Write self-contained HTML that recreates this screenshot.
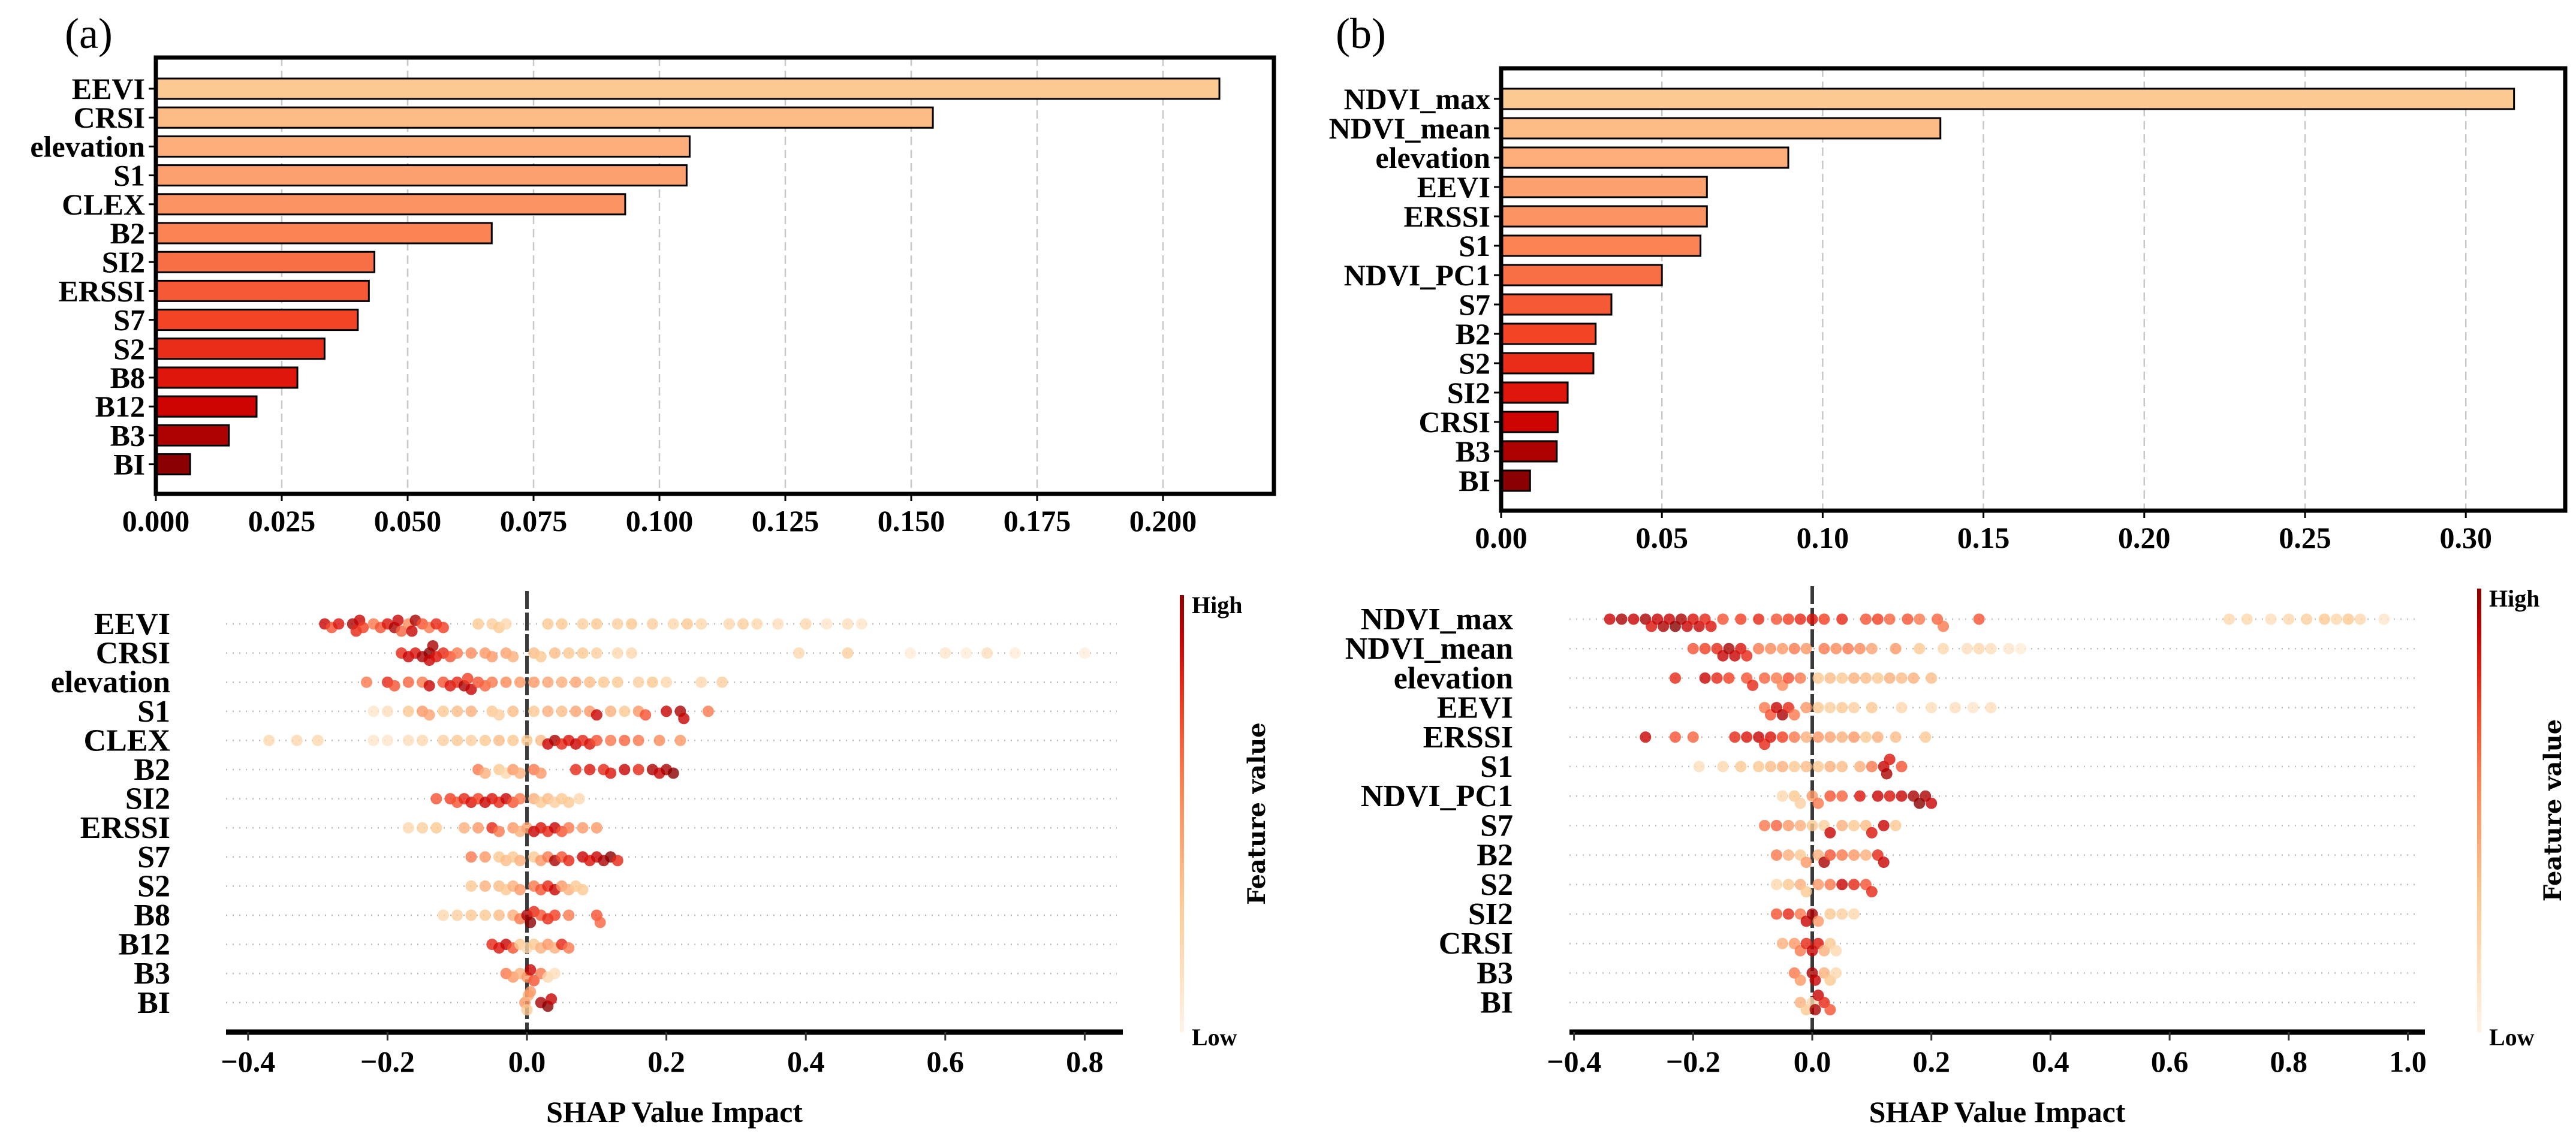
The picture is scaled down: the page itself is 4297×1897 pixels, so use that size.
<!DOCTYPE html>
<html><head><meta charset="utf-8">
<style>
html,body{margin:0;padding:0;background:#fff;}
svg{display:block;}
text{font-family:"Liberation Serif",serif;font-weight:bold;fill:#000;}
</style></head>
<body>
<svg id="fig" width="4297" height="1897" viewBox="0 0 4297 1897" xmlns="http://www.w3.org/2000/svg">
<rect width="4297" height="1897" fill="#fff"/>
<text x="108" y="80" font-size="72" style="font-weight:normal">(a)</text>
<text x="2228" y="80" font-size="72" style="font-weight:normal">(b)</text>
</svg>
<script>
// ---------- DATA ----------
const featuresA = ["EEVI","CRSI","elevation","S1","CLEX","B2","SI2","ERSSI","S7","S2","B8","B12","B3","BI"];
const importanceA = [0.2112,0.1543,0.106,0.1054,0.0932,0.0667,0.0434,0.0423,0.0401,0.0335,0.0281,0.020,0.0145,0.0068];
const barTicksA = ["0.000","0.025","0.050","0.075","0.100","0.125","0.150","0.175","0.200"];
const featuresB = ["NDVI_max","NDVI_mean","elevation","EEVI","ERSSI","S1","NDVI_PC1","S7","B2","S2","SI2","CRSI","B3","BI"];
const importanceB = [0.315,0.1366,0.0893,0.064,0.064,0.062,0.050,0.0343,0.0294,0.0287,0.0207,0.0176,0.0173,0.009];
const barTicksB = ["0.00","0.05","0.10","0.15","0.20","0.25","0.30"];
const shapTicksA = ["-0.4","-0.2","0.0","0.2","0.4","0.6","0.8"];
const shapTicksB = ["-0.4","-0.2","0.0","0.2","0.4","0.6","0.8","1.0"];
// SHAP points: "shapValue,featureValue"
const shapA = [
"-0.29,.9 -0.28,.7 -0.27,.85 -0.25,.95 -0.245,.8 -0.24,.9 -0.235,.75 -0.22,.6 -0.21,.7 -0.2,.85 -0.19,.95 -0.185,.9 -0.18,.65 -0.17,.55 -0.165,.9 -0.16,.95 -0.15,.7 -0.14,.6 -0.13,.8 -0.12,.75 -0.07,.3 -0.05,.25 -0.04,.3 -0.03,.2 0.03,.3 0.05,.3 0.08,.25 0.1,.3 0.13,.25 0.15,.3 0.18,.25 0.21,.2 0.23,.3 0.25,.2 0.29,.2 0.31,.25 0.33,.2 0.36,.15 0.4,.2 0.43,.1 0.46,.15 0.48,.1",
"-0.18,.8 -0.17,.9 -0.16,.85 -0.15,.95 -0.14,1 -0.14,.9 -0.135,.95 -0.13,.85 -0.12,.8 -0.11,.7 -0.1,.6 -0.08,.55 -0.06,.5 -0.05,.5 -0.03,.45 -0.02,.4 0.01,.35 0.02,.3 0.04,.35 0.06,.3 0.08,.3 0.1,.25 0.13,.2 0.15,.2 0.39,.2 0.46,.25 0.55,.05 0.6,.1 0.63,.05 0.66,.15 0.7,.05 0.8,.03",
"-0.23,.6 -0.2,.8 -0.19,.7 -0.17,.65 -0.15,.6 -0.14,.9 -0.12,.7 -0.11,.85 -0.1,.8 -0.09,.95 -0.085,.75 -0.08,.9 -0.07,.7 -0.06,.65 -0.05,.6 -0.03,.55 -0.01,.5 0.01,.5 0.03,.45 0.05,.4 0.07,.45 0.09,.35 0.11,.3 0.13,.3 0.16,.25 0.18,.3 0.2,.2 0.25,.2 0.28,.25",
"-0.22,.1 -0.2,.15 -0.17,.3 -0.15,.5 -0.14,.45 -0.12,.3 -0.1,.35 -0.08,.4 -0.05,.3 -0.04,.25 -0.02,.35 0.01,.3 0.03,.4 0.05,.35 0.07,.45 0.09,.5 0.1,.9 0.12,.4 0.14,.3 0.16,.5 0.17,.7 0.2,.9 0.22,.95 0.225,.9 0.26,.6",
"-0.37,.2 -0.33,.2 -0.3,.2 -0.22,.1 -0.2,.1 -0.17,.15 -0.15,.2 -0.12,.25 -0.1,.3 -0.08,.25 -0.06,.3 -0.04,.35 -0.02,.3 0,.3 0.02,.35 0.03,.9 0.04,.95 0.05,.8 0.06,.85 0.07,.9 0.08,.8 0.09,.85 0.1,.7 0.12,.6 0.14,.65 0.16,.6 0.19,.55 0.22,.5",
"-0.07,.6 -0.06,.4 -0.04,.3 -0.03,.2 -0.02,.5 -0.01,.4 0.01,.6 0.02,.5 0.07,.8 0.09,.85 0.11,.8 0.12,.85 0.14,.9 0.16,.8 0.18,.95 0.19,.9 0.2,.95 0.21,1",
"-0.13,.7 -0.11,.75 -0.1,.7 -0.09,.8 -0.08,.85 -0.07,.75 -0.06,.9 -0.05,.85 -0.04,.8 -0.03,.9 -0.02,.7 -0.01,.6 0.01,.4 0.02,.3 0.03,.35 0.04,.25 0.05,.3 0.06,.3 0.075,.2",
"-0.17,.2 -0.15,.25 -0.13,.3 -0.09,.4 -0.07,.5 -0.05,.8 -0.04,.6 -0.02,.5 -0.01,.4 0,.45 0.01,.9 0.02,.85 0.03,.8 0.04,.9 0.05,.7 0.06,.6 0.08,.5 0.1,.5",
"-0.08,.6 -0.06,.5 -0.04,.3 -0.03,.35 -0.02,.3 -0.01,.4 0.01,.3 0.02,.5 0.03,.6 0.04,.95 0.05,.7 0.06,.8 0.08,.9 0.09,.85 0.1,.9 0.11,.95 0.12,1 0.13,.8",
"-0.08,.3 -0.06,.4 -0.04,.35 -0.03,.3 -0.02,.4 -0.01,.5 0.01,.6 0.02,.7 0.03,.8 0.04,.9 0.05,.5 0.06,.4 0.07,.3 0.08,.3",
"-0.12,.2 -0.1,.25 -0.08,.3 -0.06,.3 -0.04,.35 -0.02,.4 -0.01,.6 0,.95 0.005,1 0.01,.8 0.02,.7 0.03,.8 0.04,.75 0.06,.6 0.1,.7 0.105,.65",
"-0.05,.8 -0.04,.85 -0.03,.9 -0.02,.7 -0.01,.3 0,.2 0.01,.3 0.02,.4 0.03,.5 0.04,.4 0.05,.8 0.06,.6",
"-0.03,.6 -0.02,.5 -0.01,.4 0,.5 0.005,.9 0.01,.7 0.02,.6 0.03,.2 0.04,.15",
"-0.003,.5 0,.3 0.002,.4 0.005,.5 0.02,.95 0.03,1 0.035,.9"
];
const shapB = [
"-0.34,.9 -0.32,.95 -0.3,.9 -0.28,.95 -0.27,.85 -0.26,.9 -0.25,.95 -0.24,.9 -0.23,1 -0.22,.95 -0.21,.9 -0.2,.85 -0.19,.9 -0.18,.8 -0.17,.85 -0.15,.7 -0.12,.75 -0.09,.8 -0.06,.7 -0.04,.75 -0.02,.8 0,.85 0.02,.75 0.05,.8 0.09,.7 0.11,.75 0.13,.65 0.16,.7 0.18,.6 0.21,.65 0.22,.6 0.28,.7 0.7,.2 0.73,.2 0.77,.15 0.8,.2 0.83,.25 0.86,.3 0.88,.2 0.9,.3 0.92,.2 0.96,.1",
"-0.2,.7 -0.18,.75 -0.16,.8 -0.15,.9 -0.14,.95 -0.13,.9 -0.12,.85 -0.11,.8 -0.09,.6 -0.07,.55 -0.05,.5 -0.03,.6 -0.01,.5 0.02,.6 0.04,.55 0.06,.6 0.08,.55 0.1,.45 0.14,.5 0.18,.3 0.22,.2 0.26,.15 0.28,.2 0.3,.15 0.33,.1 0.35,.05",
"-0.23,.8 -0.18,.9 -0.16,.8 -0.14,.75 -0.11,.7 -0.1,.8 -0.08,.65 -0.06,.6 -0.05,.55 -0.04,.7 -0.02,.6 0.01,.3 0.03,.35 0.05,.3 0.07,.4 0.09,.35 0.11,.3 0.13,.4 0.15,.35 0.17,.4 0.2,.35",
"-0.08,.6 -0.07,.7 -0.06,.9 -0.05,.95 -0.04,.8 -0.03,.6 -0.01,.5 0.01,.3 0.03,.25 0.05,.3 0.07,.25 0.1,.3 0.15,.2 0.2,.15 0.24,.15 0.27,.1 0.3,.15",
"-0.28,.9 -0.23,.7 -0.2,.65 -0.13,.8 -0.11,.85 -0.09,.9 -0.08,.8 -0.07,.85 -0.05,.75 -0.03,.6 -0.01,.4 0.01,.5 0.03,.45 0.05,.4 0.07,.5 0.09,.3 0.11,.4 0.14,.35 0.19,.3",
"-0.19,.15 -0.15,.2 -0.12,.3 -0.09,.3 -0.07,.35 -0.05,.4 -0.03,.3 -0.01,.35 0.01,.3 0.03,.4 0.05,.35 0.08,.4 0.1,.6 0.12,.9 0.125,.95 0.13,.85 0.15,.7",
"-0.05,.2 -0.03,.3 -0.02,.25 0,.5 0.01,.6 0.03,.7 0.05,.65 0.08,.85 0.11,.9 0.13,.85 0.15,.9 0.17,.95 0.18,1 0.19,.95 0.2,.9",
"-0.08,.6 -0.06,.65 -0.04,.5 -0.02,.4 0,.3 0.02,.25 0.03,.9 0.05,.4 0.07,.3 0.09,.35 0.1,.85 0.12,.9 0.14,.3",
"-0.06,.6 -0.04,.4 -0.02,.3 -0.01,.5 0.01,.4 0.02,.95 0.03,.7 0.05,.6 0.07,.5 0.09,.4 0.11,.8 0.12,.9",
"-0.06,.2 -0.04,.3 -0.02,.4 -0.01,.3 0.01,.5 0.03,.6 0.05,.9 0.07,.8 0.09,.7 0.1,.8",
"-0.06,.7 -0.04,.8 -0.02,.6 -0.01,.9 0,.95 0.01,.5 0.03,.3 0.05,.25 0.07,.2",
"-0.05,.4 -0.03,.5 -0.02,.6 -0.01,.8 0,.9 0.01,.85 0.02,.4 0.03,.3 0.04,.2",
"-0.03,.6 -0.02,.5 0,.95 0.005,.9 0.02,.4 0.03,.3 0.04,.2",
"-0.02,.4 -0.01,.3 0,.2 0.005,.95 0.01,.9 0.02,.8 0.03,.7"
];

// ---------- HELPERS ----------
const NS = "http://www.w3.org/2000/svg";
const svg = document.getElementById("fig");
function mk(tag, attrs, parent){
  const e = document.createElementNS(NS, tag);
  for (const k in attrs) e.setAttribute(k, attrs[k]);
  (parent||svg).appendChild(e);
  return e;
}
const stops = [[0,[255,243,230]],[0.3,[253,201,146]],[0.55,[252,138,90]],[0.75,[242,60,32]],[0.88,[212,4,2]],[1,[139,0,0]]];
function cmap(t){
  t=Math.max(0,Math.min(1,t));
  for(let i=1;i<stops.length;i++){
    if(t<=stops[i][0]){
      const a=stops[i-1],b=stops[i],f=(t-a[0])/(b[0]-a[0]);
      const c=a[1].map((v,j)=>Math.round(v+(b[1][j]-v)*f));
      return `rgb(${c[0]},${c[1]},${c[2]})`;
    }
  }
  return "rgb(139,0,0)";
}

// ---------- BAR CHARTS ----------
function barChart(o){
  const g = mk("g",{});
  
  
  const xs = v => o.left + (v - 0) / o.tickStep * o.tickPx;
  o.ticks.forEach((t,i)=>{
    const x = xs(parseFloat(t));
    if(i>0){
      const gl = mk("line",{x1:x,x2:x,y1:o.top,y2:o.bottom,stroke:"#c8c8c8","stroke-width":2.5,"stroke-dasharray":"14,8"},g);
      
      
    }
    mk("line",{x1:x,x2:x,y1:o.bottom,y2:o.bottom+12,stroke:"#000","stroke-width":3},g);
    const tx = mk("text",{x:x,y:o.bottom+62,"font-size":50,"text-anchor":"middle"},g);
    tx.textContent = t;
    
    
  });
  const n = o.features.length;
  o.features.forEach((f,i)=>{
    const cy = o.firstY + i*o.rowH;
    const r = mk("rect",{x:o.left,y:cy-o.barH/2,width:xs(o.values[i])-o.left,height:o.barH,fill:cmap(0.3+0.7*i/(n-1)),stroke:"#000","stroke-width":3},g);
    
    
    mk("line",{x1:o.left-12,x2:o.left,y1:cy,y2:cy,stroke:"#000","stroke-width":3},g);
    const tx = mk("text",{x:o.left-18,y:cy+17,"font-size":50,"text-anchor":"end"},g);
    tx.textContent = f;
    
    
  });
  const fr = mk("rect",{x:o.left,y:o.top,width:o.right-o.left,height:o.bottom-o.top,fill:"none",stroke:"#000","stroke-width":7},g);
  
  
}
barChart({name:"importance-bar-chart-a",features:featuresA,values:importanceA,ticks:barTicksA,left:260,right:2125,top:96,bottom:824,tickStep:0.025,tickPx:210,firstY:148,rowH:48.2,barH:34});
barChart({name:"importance-bar-chart-b",features:featuresB,values:importanceB,ticks:barTicksB,left:2504,right:4279,top:114,bottom:852,tickStep:0.05,tickPx:268.2,firstY:165,rowH:49,barH:34});

// ---------- BEESWARM ----------
function swarm(o){
  const g = mk("g",{});
  
  
  const xs = v => o.zeroX + v/0.2*o.px02;
  o.features.forEach((f,i)=>{
    const cy = o.firstY + i*o.rowH;
    const dl = mk("line",{x1:o.axL,x2:o.axR-10,y1:cy,y2:cy,stroke:"#bbb","stroke-width":2.5,"stroke-dasharray":"2,9"},g);
    
    
    const tx = mk("text",{x:o.labelX,y:cy+17,"font-size":52,"text-anchor":"end",fill:"#222"},g);
    tx.textContent = f;
    
    
  });
  const zl = mk("line",{x1:xs(0),x2:xs(0),y1:o.firstY-55,y2:o.axisY,stroke:"#3a3a3a","stroke-width":6,"stroke-dasharray":"30,6"},g);
  
  
  o.features.forEach((f,i)=>{
    const cy = o.firstY + i*o.rowH;
    const pts = o.data[i].trim().split(/\s+/).map(s=>{const p=s.split(",");return {x:xs(parseFloat(p[0])),v:parseFloat(p[1])};});
    const placed=[];
    pts.forEach(p=>{
      let off=0;
      const cand=[0,6,-6,12,-12,18,-18];
      for(const c of cand){
        off=c;
        if(!placed.some(q=>Math.hypot(q.x-p.x,q.y-c)<12)) break;
      }
      placed.push({x:p.x,y:off});
      const c = mk("circle",{cx:p.x,cy:cy+off,r:9.5,fill:cmap(p.v),"fill-opacity":0.8},g);
      
      
    });
  });
  const ax = mk("line",{x1:o.axL,x2:o.axR,y1:o.axisY,y2:o.axisY,stroke:"#000","stroke-width":9},g);
  
  
  o.ticks.forEach(t=>{
    const x = xs(parseFloat(t));
    mk("line",{x1:x,x2:x,y1:o.axisY,y2:o.axisY+14,stroke:"#333","stroke-width":3},g);
    const tx = mk("text",{x:x,y:o.axisY+66,"font-size":50,"text-anchor":"middle",fill:"#222"},g);
    tx.textContent = t.replace("-","\u2212");
    
    
  });
  const xt = mk("text",{x:(o.axL+o.axR)/2,y:1872,"font-size":50,"text-anchor":"middle"},g);
  xt.textContent = "SHAP Value Impact";
  
  
  const gid = o.name+"-grad";
  const defs = mk("defs",{},g);
  const lg = mk("linearGradient",{id:gid,x1:0,y1:1,x2:0,y2:0},defs);
  for(let k=0;k<=10;k++) mk("stop",{offset:k/10,"stop-color":cmap(k/10)},lg);
  const cb = mk("rect",{x:o.cbX,y:o.cbTop,width:7,height:o.axisY-o.cbTop,fill:`url(#${gid})`},g);
  
  
  const hi = mk("text",{x:o.cbX+20,y:o.cbTop+30,"font-size":40,fill:"#222"},g);
  hi.textContent="High";
  
  
  const lo = mk("text",{x:o.cbX+20,y:o.axisY+22,"font-size":40,fill:"#222"},g);
  lo.textContent="Low";
  
  
  const my=(o.cbTop+o.axisY)/2;
  const fv = mk("text",{x:o.fvX,y:my,"font-size":40,"text-anchor":"middle",transform:`rotate(-90 ${o.fvX} ${my})`,style:"font-family:'DejaVu Serif',serif;font-weight:bold"},g);
  fv.textContent="Feature value";
  
  
}
swarm({name:"shap-summary-a",features:featuresA,data:shapA,ticks:shapTicksA,zeroX:879,px02:232.6,firstY:1041,rowH:48.6,axisY:1722,axL:377,axR:1873,labelX:284,cbX:1968,cbTop:993,fvX:2110});
swarm({name:"shap-summary-b",features:featuresB,data:shapB,ticks:shapTicksB,zeroX:3023,px02:198.7,firstY:1033,rowH:49.2,axisY:1722,axL:2618,axR:4045,labelX:2524,cbX:4132,cbTop:982,fvX:4272});
</script>
</body></html>
